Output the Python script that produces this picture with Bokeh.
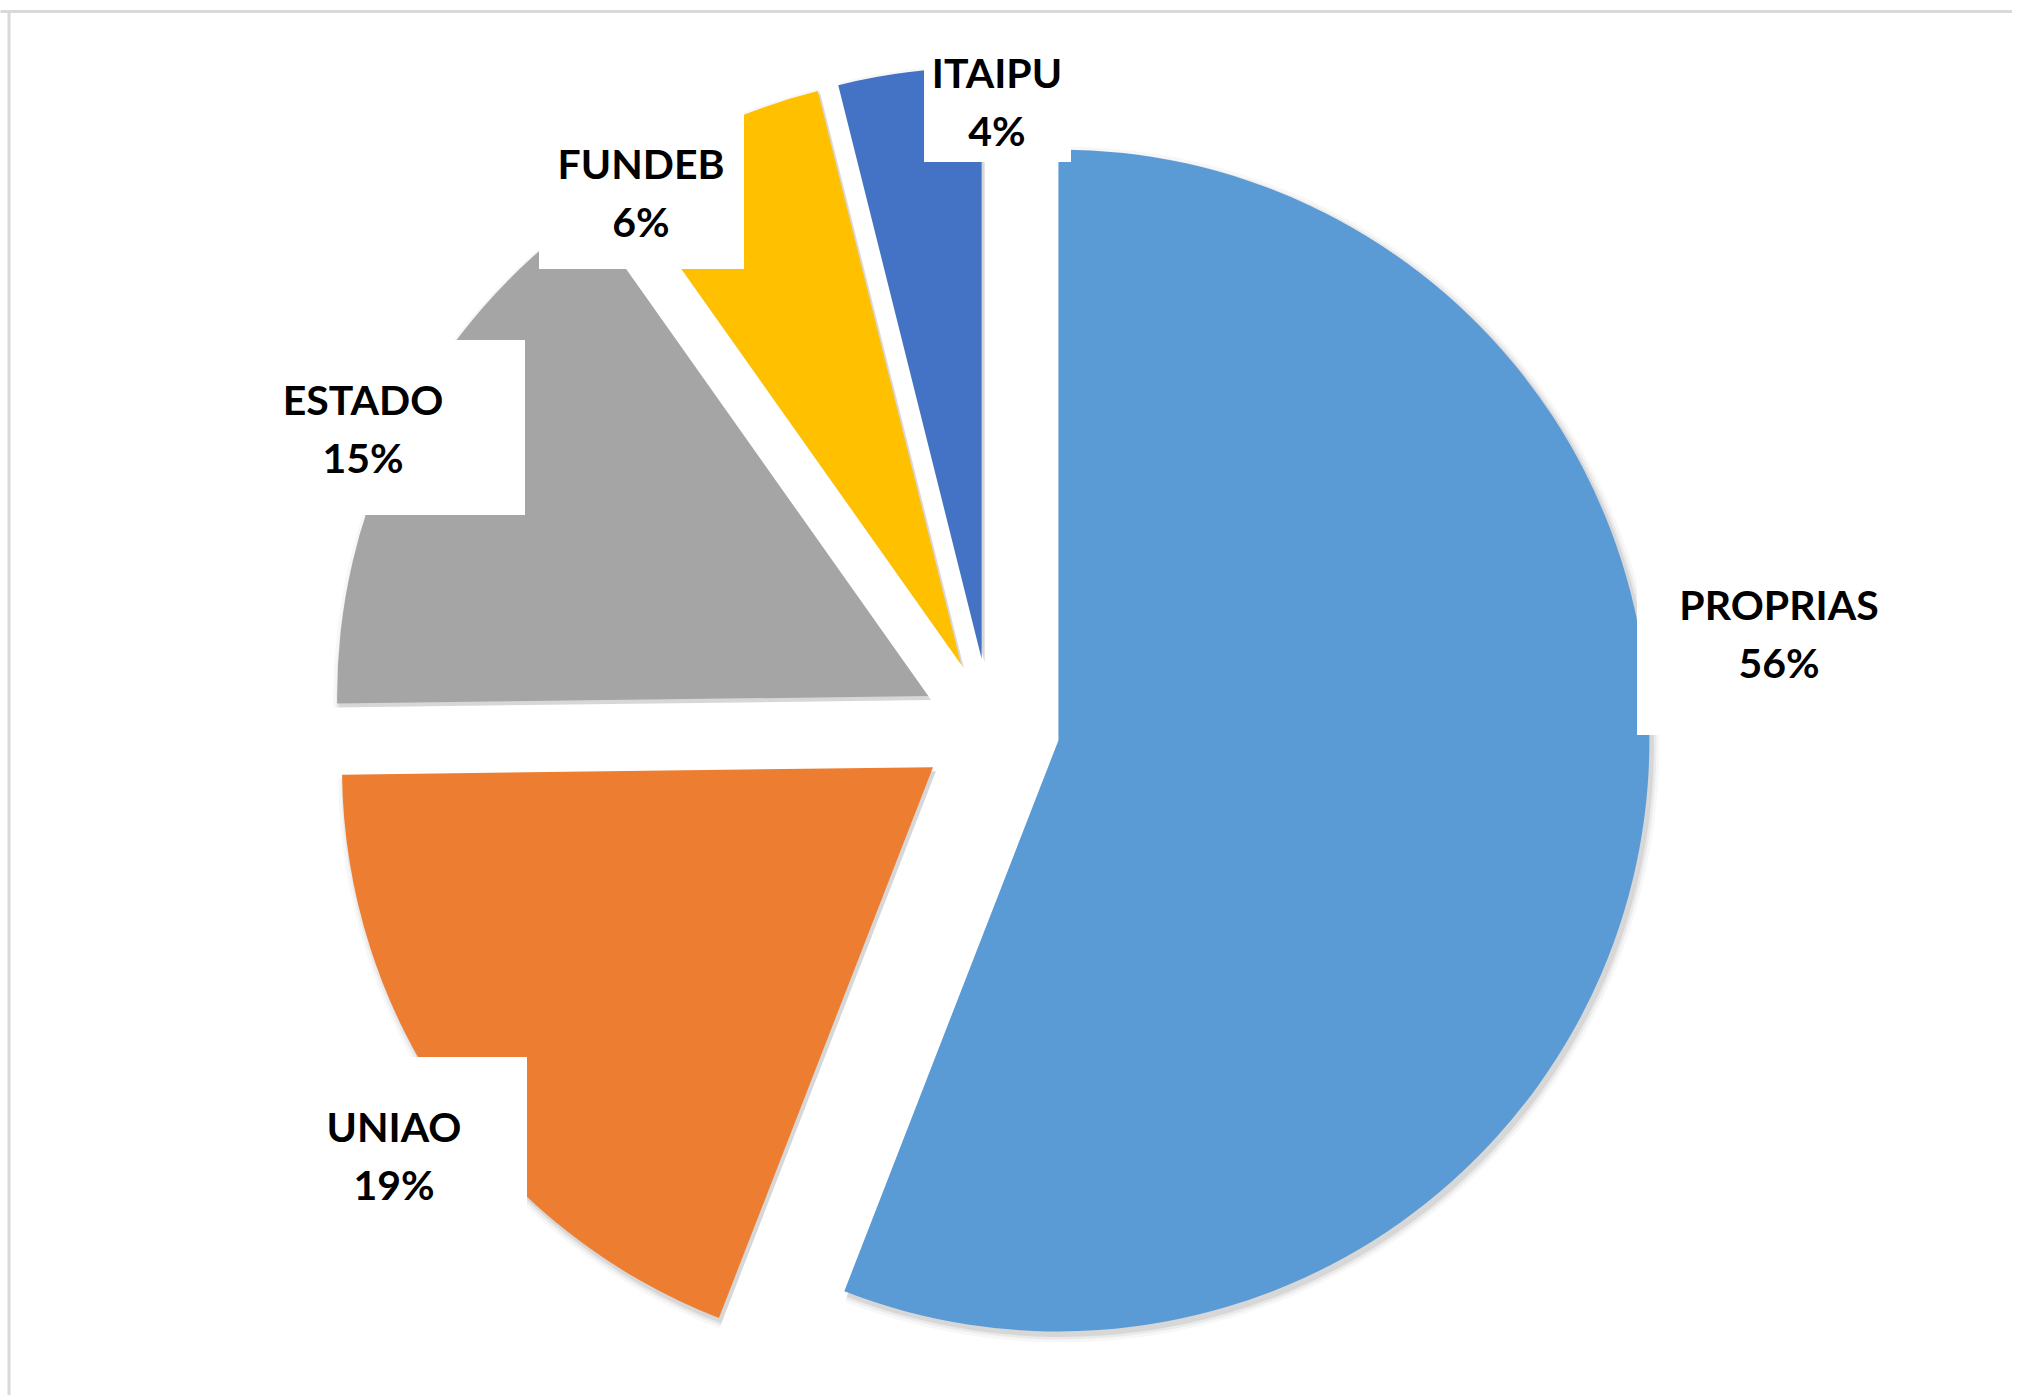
import numpy as np
from bokeh.plotting import figure
from bokeh.models import Range1d, ColumnDataSource
from bokeh.embed import file_html
from bokeh.resources import INLINE
from bokeh.core.properties import value

# ---- data ----
categories = ["PROPRIAS", "UNIAO", "ESTADO", "FUNDEB", "ITAIPU"]
shares = [55.9, 18.9, 15.4, 5.9, 3.9]
colors = ["#5B9BD5", "#ED7D31", "#A5A5A5", "#FFC000", "#4472C4"]

# ---- layout (page pixels) ----
W, H = 2012, 1395
ORIGIN = 0.5
PIE_CX, PIE_CY = 990.1, 727.6
R = 591
EXPLODE = 69.5
# label boxes: left, top, right, bottom ; label centres
label_boxes = {
    "PROPRIAS": (1637, 560, 1925, 735),
    "UNIAO": (262, 1057, 527, 1245),
    "ESTADO": (200, 340, 525, 515),
    "FUNDEB": (539, 109, 744, 269),
    "ITAIPU": (924, 45, 1071, 162),
}
label_centres = {
    "PROPRIAS": (1779, 633),
    "UNIAO": (394, 1155.5),
    "ESTADO": (363, 428),
    "FUNDEB": (641, 192.5),
    "ITAIPU": (997, 101.5),
}
LINE_GAP = 29


def px(X):
    return X - ORIGIN


def py(Y):
    return H + ORIGIN - Y


total = float(sum(shares))
cum = np.concatenate([[0.0], np.cumsum(shares)]) / total * 2 * np.pi
t1, t2 = cum[:-1], cum[1:]
tm = (t1 + t2) / 2
cx = px(PIE_CX) + EXPLODE * np.sin(tm)
cy = py(PIE_CY) + EXPLODE * np.cos(tm)
start = np.pi / 2 - t2
end = np.pi / 2 - t1

src = ColumnDataSource(dict(x=cx, y=cy, start=start, end=end, color=colors, cat=categories))

p = figure(width=W, height=H, x_range=Range1d(0, W), y_range=Range1d(0, H),
           output_backend="svg", toolbar_location=None, min_border=0)
p.axis.visible = False
p.grid.visible = False
p.outline_line_color = None
p.background_fill_color = "white"
p.border_fill_color = "white"

# chart-area border (top and left visible)
p.segment(x0=[px(0), px(9)], y0=[py(11.5), py(1400)], x1=[px(2019), px(9)], y1=[py(11.5), py(11.5)],
          line_color="#d9d9d9", line_width=3)

# soft shadow layers
for k, a in [(7, 0.03), (4, 0.05), (1.5, 0.08)]:
    ssrc = ColumnDataSource(dict(x=cx + 3, y=cy - 4, start=start, end=end))
    p.wedge(x="x", y="y", radius=R + k, start_angle="start", end_angle="end",
            source=ssrc, fill_color="black", fill_alpha=a, line_color=None)

p.wedge(x="x", y="y", radius=R, start_angle="start", end_angle="end",
        source=src, fill_color="color", line_color=None)

# label boxes
lb = dict(left=[], right=[], top=[], bottom=[])
for c in categories:
    l, t, r, b = label_boxes[c]
    lb["left"].append(px(l)); lb["right"].append(px(r))
    lb["top"].append(py(t)); lb["bottom"].append(py(b))
p.quad(source=ColumnDataSource(lb), left="left", right="right", top="top", bottom="bottom",
       fill_color="white", line_color=None)

pcts = [f"{round(s / total * 100)}%" for s in shares]
tx = [px(label_centres[c][0]) for c in categories]
ty = [py(label_centres[c][1]) for c in categories]
tsrc = ColumnDataSource(dict(x=tx, y1=[y + LINE_GAP for y in ty], y2=[y - LINE_GAP for y in ty],
                             name=categories, pct=pcts))
for ycol, tcol in [("y1", "name"), ("y2", "pct")]:
    p.text(x="x", y=ycol, text=tcol, source=tsrc, text_font=value("Lato"),
           text_font_style="bold", text_font_size="41px", text_color="black",
           text_align="center", text_baseline="middle")

open("out.html", "w").write(file_html(p, INLINE))
